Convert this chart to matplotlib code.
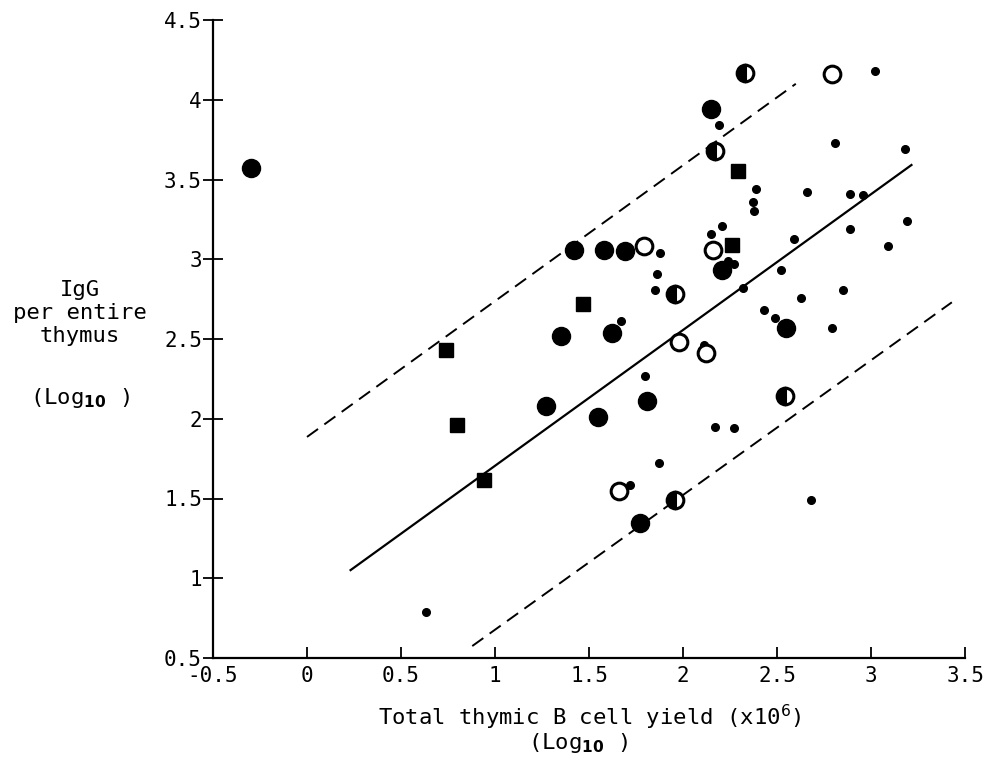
import matplotlib
matplotlib.use("Agg")
import matplotlib.pyplot as plt

plt.rcParams["font.family"] = ["DejaVu Sans Mono", "DejaVu Sans"]
plt.rcParams["mathtext.fontset"] = "dejavusans"

# === Data (log10 values) ===
# large filled circles
big_x = [-0.30, 2.15, 1.42, 1.58, 1.69, 1.35, 1.62, 1.27, 1.55, 1.81, 2.21, 2.55, 1.77]
big_y = [3.57, 3.94, 3.06, 3.06, 3.05, 2.52, 2.54, 2.08, 2.01, 2.11, 2.93, 2.57, 1.345]

# open circles
open_x = [2.79, 1.79, 2.16, 1.98, 2.12, 1.66]
open_y = [4.16, 3.085, 3.06, 2.48, 2.41, 1.55]

# half filled circles
half_x = [2.33, 2.17, 1.96, 2.54, 1.96]
half_y = [4.17, 3.68, 2.78, 2.14, 1.49]

# filled squares
sq_x = [2.29, 2.26, 1.47, 0.74, 0.80, 0.94]
sq_y = [3.555, 3.09, 2.72, 2.43, 1.96, 1.615]

# small dots
dot_x = [3.02, 2.19, 2.81, 3.18, 2.39, 2.37, 2.38, 2.66, 2.89, 2.96, 3.19, 2.89,
         3.09, 2.59, 2.21, 2.15, 2.24, 2.27, 2.52, 2.32, 2.63, 2.85, 1.88, 1.86,
         1.85, 1.67, 2.43, 2.49, 2.79, 2.11, 1.80, 2.17, 2.27, 1.87, 1.72, 2.68,
         0.635]
dot_y = [4.18, 3.84, 3.73, 3.69, 3.44, 3.36, 3.30, 3.42, 3.41, 3.40, 3.24, 3.19,
         3.08, 3.13, 3.21, 3.16, 2.99, 2.97, 2.93, 2.82, 2.76, 2.81, 3.04, 2.91,
         2.81, 2.61, 2.68, 2.63, 2.57, 2.46, 2.27, 1.95, 1.94, 1.72, 1.585, 1.49,
         0.786]

# regression line and limits (end points)
fit_x = [0.227, 3.22]
fit_y = [1.047, 3.595]
upper_x = [0.0, 2.60]
upper_y = [1.886, 4.10]
lower_x = [0.879, 3.43]
lower_y = [0.575, 2.73]

xticks = [-0.5, 0, 0.5, 1, 1.5, 2, 2.5, 3, 3.5]
xticklabels = ["-0.5", "0", "0.5", "1", "1.5", "2", "2.5", "3", "3.5"]
yticks = [0.5, 1, 1.5, 2, 2.5, 3, 3.5, 4, 4.5]
yticklabels = ["0.5", "1", "1.5", "2", "2.5", "3", "3.5", "4", "4.5"]

# === Figure ===
fig = plt.figure(figsize=(10.05, 7.69), dpi=100)
ax = fig.add_axes([213 / 1005, 1 - 658 / 769, (965 - 213) / 1005, (658 - 20) / 769])

ax.plot(fit_x, fit_y, color="black", lw=1.6, solid_capstyle="butt")
ax.plot(upper_x, upper_y, color="black", lw=1.4, dashes=(7, 4))
ax.plot(lower_x, lower_y, color="black", lw=1.4, dashes=(7, 4))

ax.plot(dot_x, dot_y, "o", ms=5.5, color="black", ls="none")
ax.plot(sq_x, sq_y, "s", ms=10.5, color="black", ls="none")
ax.plot(big_x, big_y, "o", ms=13, color="black", ls="none")
ax.plot(open_x, open_y, "o", ms=12, mfc="white", mec="black", mew=2.2, ls="none")
ax.plot(half_x, half_y, "o", ms=12, fillstyle="left", mfc="black",
        markerfacecoloralt="white", mec="black", mew=2.2, ls="none")

ax.set_xlim(-0.5, 3.5)
ax.set_ylim(0.5, 4.5)
ax.set_xticks(xticks)
ax.set_xticklabels(xticklabels)
ax.set_yticks(yticks)
ax.set_yticklabels(yticklabels)

for s in ["top", "right"]:
    ax.spines[s].set_visible(False)
for s in ["left", "bottom"]:
    ax.spines[s].set_linewidth(1.6)

ax.tick_params(axis="x", direction="in", length=8, width=1.3, labelsize=15, pad=6)
ax.tick_params(axis="y", direction="inout", length=14, width=1.3, labelsize=15, pad=1)

fig.text(590 / 1005, 1 - 717 / 769, r"Total thymic B cell yield (x10$^{6}$)",
         ha="center", va="center", fontsize=16)
fig.text(578 / 1005, 1 - 743 / 769, r"(Log$_{\mathbf{10}}$ )",
         ha="center", va="center", fontsize=16)
fig.text(80 / 1005, 1 - 313 / 769, "IgG\nper entire\nthymus",
         ha="center", va="center", fontsize=16, linespacing=1.2)
fig.text(80 / 1005, 1 - 398 / 769, r"(Log$_{\mathbf{10}}$ )",
         ha="center", va="center", fontsize=16)

fig.savefig("out.png", dpi=100)
